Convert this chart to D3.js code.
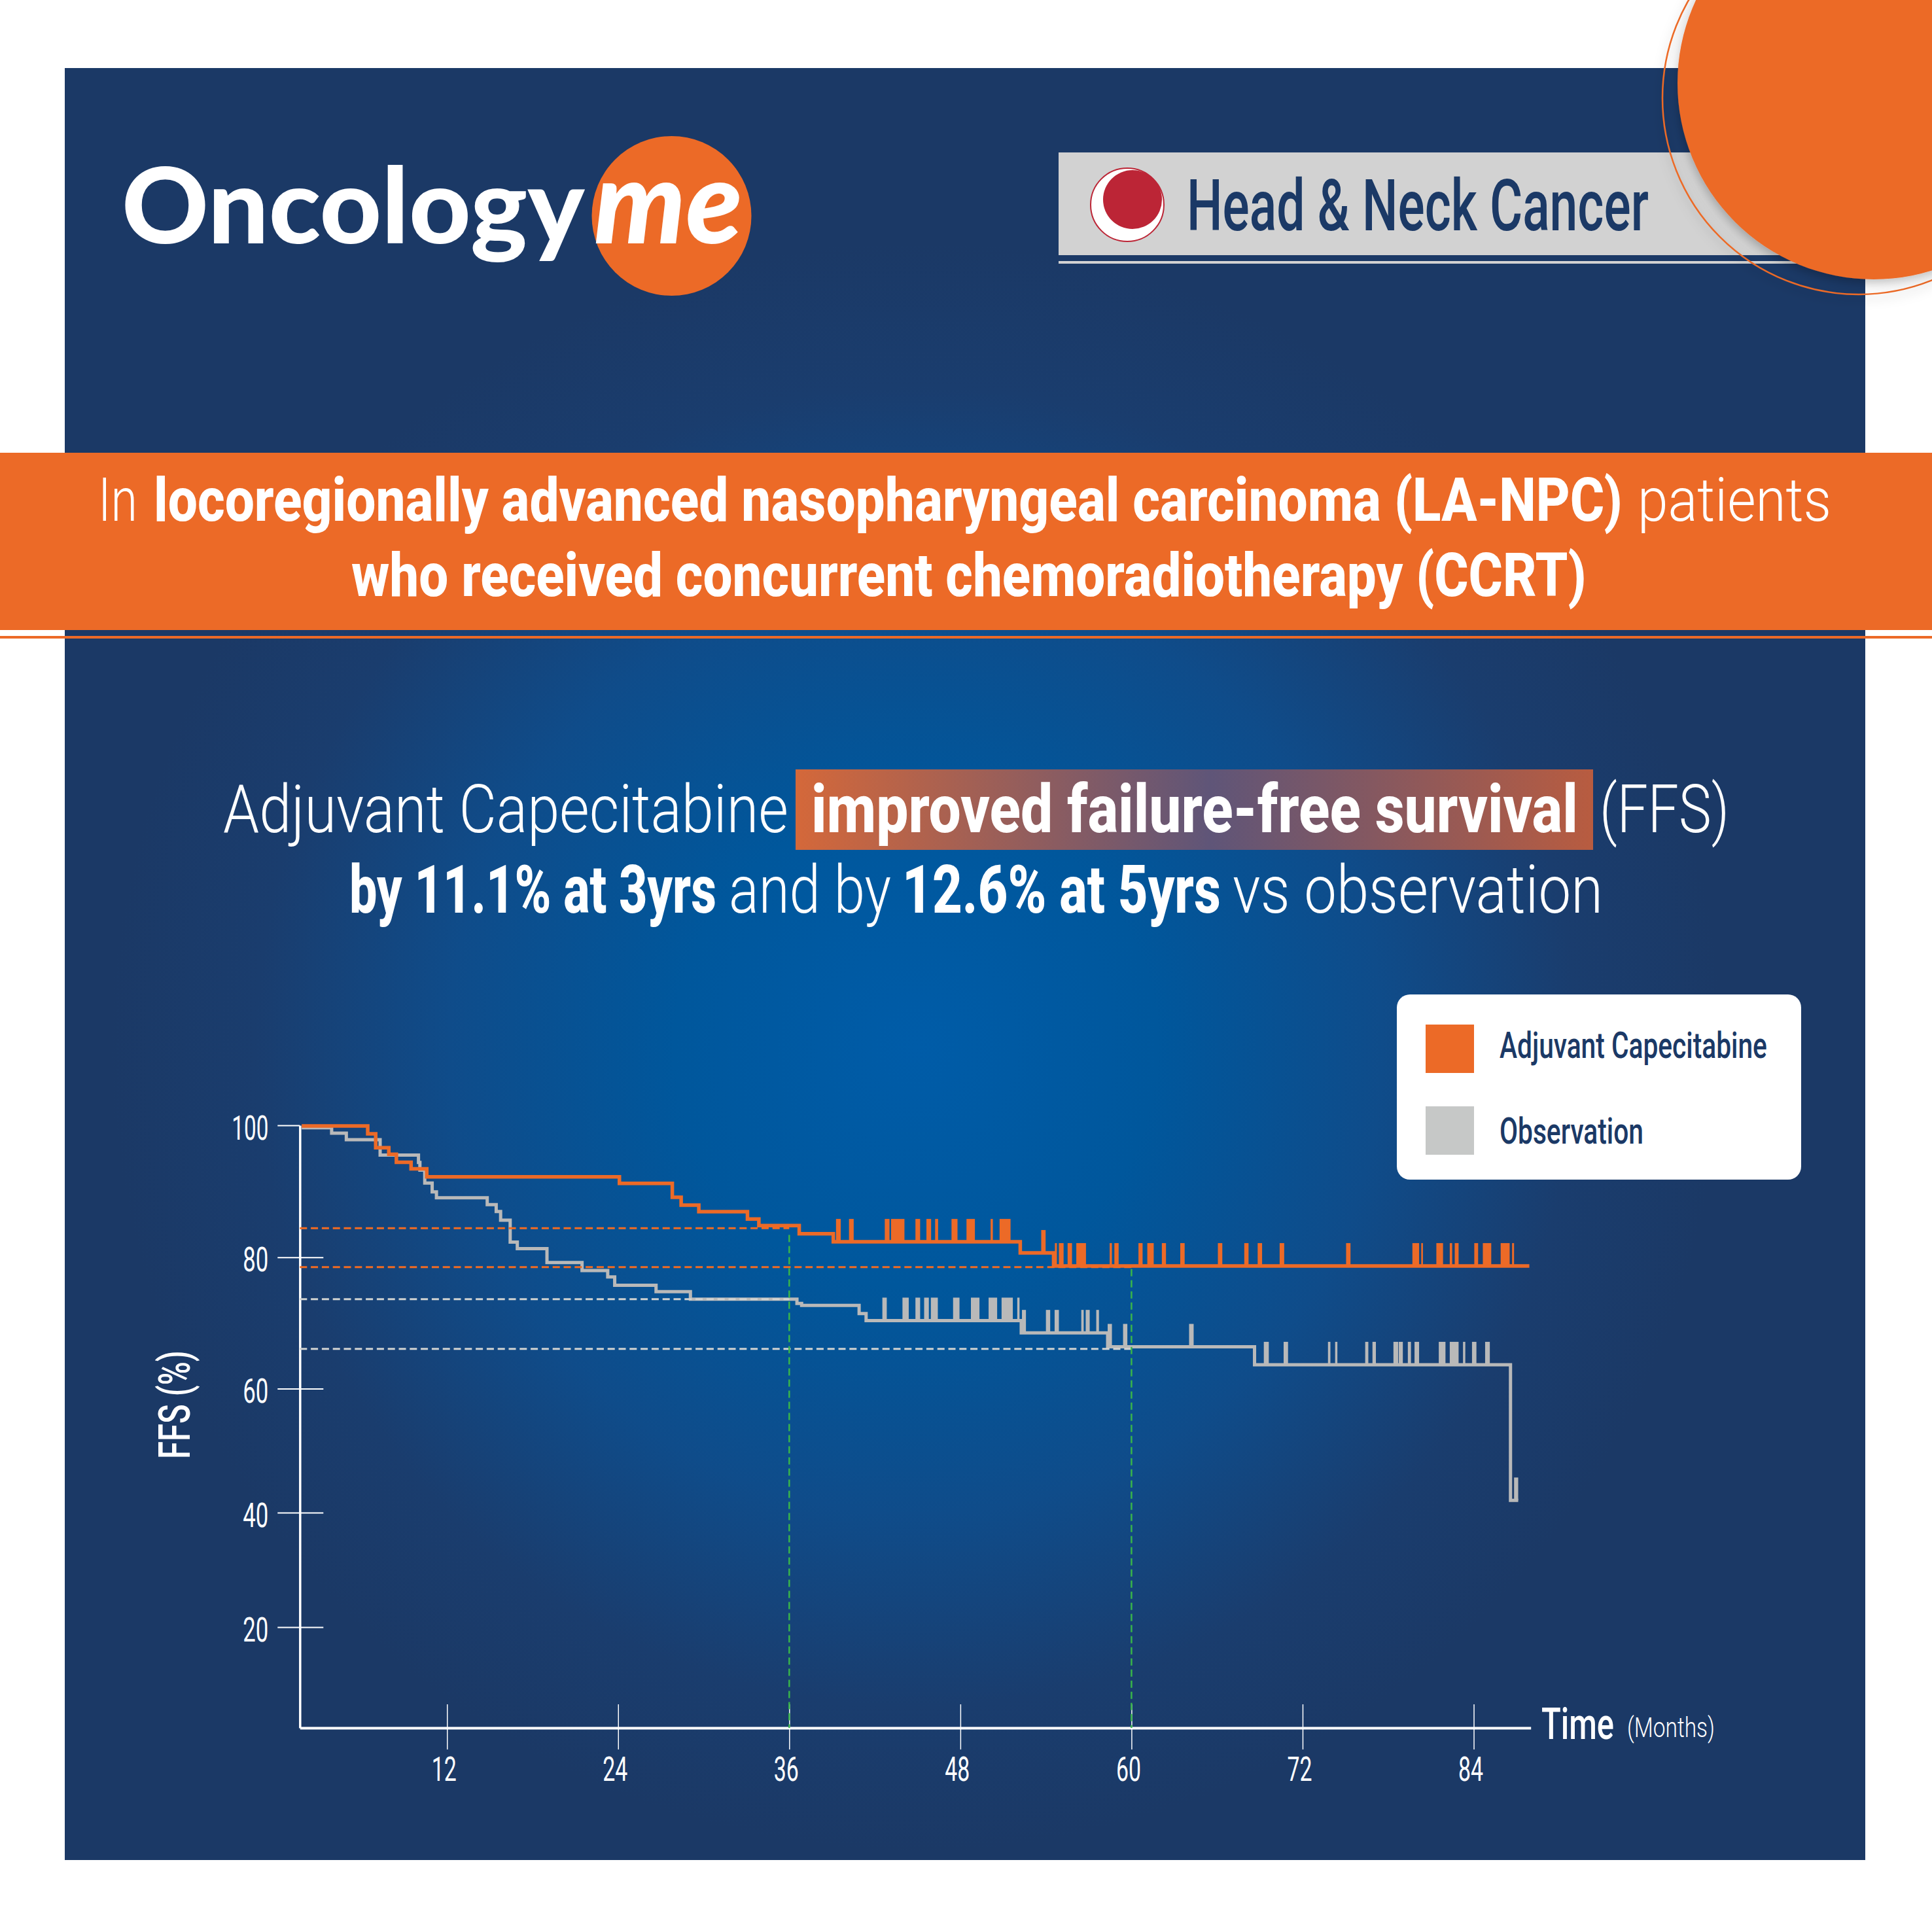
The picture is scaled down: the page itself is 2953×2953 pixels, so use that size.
<!DOCTYPE html>
<html>
<head>
<meta charset="utf-8">
<title>Oncology me - FFS</title>
<script src="https://cdn.jsdelivr.net/npm/d3@7"></script>
<style>
  body { margin: 0; background: #fff; }
  text { font-family: Roboto, "Liberation Sans", sans-serif; }
</style>
</head>
<body>
<svg id="chart" width="2953" height="2953"></svg>
<script>
// Data. Months and FFS (%)
var capMonths = [1.81, 6.44, 7.0, 7.92, 8.45, 9.48, 10.58, 24.09, 27.8, 28.42, 29.66, 33.07, 33.87, 36.7, 39.09, 52.2, 54.54, 87.9];
var capFFS = [99.9, 98.7, 96.6, 95.6, 94.4, 93.4, 92.2, 91.2, 89.1, 87.9, 86.9, 85.8, 84.8, 83.57, 82.34, 80.66, 78.67, 78.67];

var obsMonths = [1.81, 3.91, 4.94, 7.31, 10.0, 10.1, 10.44, 10.96, 11.26, 14.82, 15.45, 15.76, 16.43, 16.93, 19.01, 21.47, 23.27, 23.76, 26.66, 29.07, 36.54, 36.87, 40.9, 41.39, 52.27, 58.33, 68.63, 86.58, 87.12];
var obsFFS = [99.64, 98.81, 97.82, 95.5, 94.38, 93.22, 91.24, 89.92, 89.02, 87.97, 86.94, 85.62, 82.31, 81.32, 79.2, 77.97, 77.0, 75.73, 74.77, 73.63, 72.97, 72.67, 71.44, 70.37, 68.5, 66.37, 63.64, 41.97, 41.97];

// censor marks, [from, to] in months (close marks merge into blocks)
var capCensor = [[39.28,39.61],[40.19,40.52],[42.70,43.03],[43.14,44.08],[44.85,45.18],[45.62,45.95],[46.23,46.44],[47.38,47.80],[48.43,49.02],[50.12,50.28],[50.75,51.52],[53.67,53.98],[54.63,54.77],[54.91,55.24],[55.52,55.83],[56.13,56.81],[58.47,58.63],[58.80,59.10],[60.49,60.78],[61.11,61.56],[62.13,62.42],[63.42,63.73],[66.06,66.37],[67.91,68.21],[68.85,69.16],[70.39,70.71],[75.05,75.36],[79.70,80.17],[80.32,80.44],[81.38,81.85],[82.32,82.49],[82.67,82.94],[84.04,84.31],[84.64,85.23],[85.89,86.52],[86.69,86.83]];
var obsCensor = [[42.53,42.84],[43.94,44.38],[44.85,45.18],[45.46,45.79],[45.93,46.42],[47.49,47.94],[48.74,49.34],[49.98,50.58],[50.89,51.68],[51.99,52.15],[52.32,52.6],[54.0,54.3],[54.61,54.91],[56.48,56.65],[56.79,57.07],[57.53,57.72],[58.33,58.63],[59.41,59.71],[64.04,64.36],[69.28,69.63],[70.67,70.98],[73.78,73.95],[74.28,74.44],[76.39,76.61],[76.9,77.14],[78.37,78.7],[78.74,79.03],[79.38,79.6],[79.85,80.17],[81.55,82.02],[82.32,82.94],[83.25,83.41],[83.88,84.19],[84.8,85.13],[86.83,87.12]];

// landmark readings at 3 and 5 years
var capLandmarks = [{month: 36, ffs: 84.4}, {month: 60, ffs: 78.5}];
var obsLandmarks = [{month: 36, ffs: 73.63}, {month: 60, ffs: 66.04}];
var landmarkMonths = [36, 60];
var landmarkTops = [83.4, 78.2];

var xTicks = [12, 24, 36, 48, 60, 72, 84];
var yTicks = [100, 80, 60, 40, 20];
var legendLabels = ["Adjuvant Capecitabine", "Observation"];

var navy = "#1b3966", orange = "#ec6a27", grayLine = "#b9b9b9", grayDash = "#d0d2d1", green = "#39b54a";

var svg = d3.select("#chart");
var defs = svg.append("defs");

// radial panel background
var bgGrad = defs.append("radialGradient").attr("id", "panelBg")
    .attr("gradientUnits", "userSpaceOnUse")
    .attr("cx", 1400).attr("cy", 1600).attr("r", 1230);
bgGrad.append("stop").attr("offset", 0).attr("stop-color", "#005ca8");
bgGrad.append("stop").attr("offset", 0.3).attr("stop-color", "#00579c");
bgGrad.append("stop").attr("offset", 0.58).attr("stop-color", "#0f4c8a");
bgGrad.append("stop").attr("offset", 0.82).attr("stop-color", "#1a3d6e");
bgGrad.append("stop").attr("offset", 1).attr("stop-color", navy);

var hlGrad = defs.append("linearGradient").attr("id", "highlight");
hlGrad.append("stop").attr("offset", 0).attr("stop-color", "#d4683a");
hlGrad.append("stop").attr("offset", 0.52).attr("stop-color", "#5f5578");
hlGrad.append("stop").attr("offset", 1).attr("stop-color", "#b85c40");

var shadow = defs.append("filter").attr("id", "softShadow")
    .attr("x", "-20%").attr("y", "-20%").attr("width", "140%").attr("height", "140%");
shadow.append("feDropShadow").attr("dx", 0).attr("dy", 6).attr("stdDeviation", 8)
    .attr("flood-color", "#000").attr("flood-opacity", 0.25);

//Fits a text to its width in the picture, the fonts here are wider than the original one
function putText(parent, str, x, y, size, weight, len, color, rotate) {
    let t = parent.append("text")
        .text(str)
        .attr("font-size", size)
        .attr("font-weight", weight)
        .attr("fill", color || "#fff");
    let k = len / t.node().getComputedTextLength();
    t.attr("transform", "translate(" + x + "," + y + ")" + (rotate ? "rotate(" + rotate + ")" : "") + "scale(" + k + ",1)");
    return t;
}

//#region Panel, banner and header
svg.append("rect").attr("x", 99).attr("y", 104).attr("width", 2752).attr("height", 2739).attr("fill", "url(#panelBg)");

svg.append("rect").attr("x", 1618).attr("y", 233).attr("width", 1130).attr("height", 157).attr("fill", "#d2d2d2");
svg.append("rect").attr("x", 1618).attr("y", 399).attr("width", 1130).attr("height", 4).attr("fill", "#d2d2d2");
svg.append("circle").attr("cx", 1723).attr("cy", 313).attr("r", 56)
    .attr("fill", "#fff").attr("stroke", "#bc2536").attr("stroke-width", 2);
svg.append("circle").attr("cx", 1731).attr("cy", 305).attr("r", 45).attr("fill", "#bc2536");
putText(svg, "Head & Neck Cancer", 1814, 352, 110, 500, 706, navy);

svg.append("circle").attr("cx", 2841).attr("cy", 150).attr("r", 300)
    .attr("fill", "none").attr("stroke", orange).attr("stroke-width", 2.5).attr("filter", "url(#softShadow)");
svg.append("circle").attr("cx", 2864).attr("cy", 127).attr("r", 300)
    .attr("fill", orange).attr("filter", "url(#softShadow)");

putText(svg, "Oncology", 186, 372, 160, 900, 700).style("font-family", "Lato, Roboto, sans-serif");
svg.append("circle").attr("cx", 1026.5).attr("cy", 330).attr("r", 122).attr("fill", orange);
putText(svg, "me", 908, 372, 178, 900, 248).attr("font-style", "italic")
    .style("font-family", "Lato, Roboto, sans-serif");

svg.append("rect").attr("x", 0).attr("y", 692).attr("width", 2953).attr("height", 271).attr("fill", orange);
svg.append("rect").attr("x", 0).attr("y", 972).attr("width", 2953).attr("height", 4).attr("fill", orange);

putText(svg, "In", 150, 796, 92, 300, 60);
putText(svg, "locoregionally advanced nasopharyngeal carcinoma (LA-NPC)", 235, 796, 92, 800, 2245);
putText(svg, "patients", 2503, 796, 92, 300, 296);
putText(svg, "who received concurrent chemoradiotherapy (CCRT)", 537, 911, 92, 800, 1888);

svg.append("rect").attr("x", 1216).attr("y", 1176).attr("width", 1219).attr("height", 123).attr("fill", "url(#highlight)");
putText(svg, "Adjuvant Capecitabine", 341, 1272, 102, 300, 864);
putText(svg, "improved failure-free survival", 1240, 1272, 102, 800, 1172);
putText(svg, "(FFS)", 2445, 1272, 102, 300, 198);
putText(svg, "by 11.1% at 3yrs", 534, 1395, 102, 800, 561);
putText(svg, "and by", 1114, 1395, 102, 300, 248);
putText(svg, "12.6% at 5yrs", 1379, 1395, 102, 800, 487);
putText(svg, "vs observation", 1884, 1395, 102, 300, 566);
//#endregion

//#region Scales
// the y axis of the picture is not even, 40 and 20 sit closer together
var x = d3.scaleLinear().domain([1.68, 88]).range([458.3, 2339.7]);
var y = d3.scaleLinear().domain([100, 80, 60, 40, 20, 2.4]).range([1720, 1921.7, 2122.5, 2312, 2487, 2641]);

var stepLine = d3.line()
    .x(function(d) { return x(d[0]); })
    .y(function(d) { return y(d[1]); })
    .curve(d3.curveStepAfter);

//FFS of the step that a month falls on
function stepValue(months, values, month) {
    let i = d3.bisectRight(months, month) - 1;
    return values[Math.max(i, 0)];
}
//#endregion

//#region Axes
var yAxis = d3.axisLeft(y).tickValues(yTicks).tickSizeOuter(0).tickPadding(16);
var yG = svg.append("g").attr("transform", "translate(458.3,0)").call(yAxis);
yG.select(".domain").attr("stroke", "#fff").attr("stroke-width", 3.5);
yG.selectAll(".tick line")
    .attr("x1", -34)
    .attr("x2", function(d) { return d == 100 ? 0 : 36; })
    .attr("stroke", "#fff").attr("stroke-width", 2);
yG.selectAll(".tick text")
    .attr("x", -48).attr("dy", 21)
    .attr("font-size", 51).attr("fill", "#fff").attr("font-family", "Roboto")
    .attr("textLength", function(d) { return d == 100 ? 56 : 39; })
    .attr("lengthAdjust", "spacingAndGlyphs");

var xAxis = d3.axisBottom(x).tickValues(xTicks).tickSizeOuter(0);
var xG = svg.append("g").attr("transform", "translate(0,2641)").call(xAxis);
xG.select(".domain").attr("stroke", "#fff").attr("stroke-width", 4);
xG.selectAll(".tick line")
    .attr("y1", -36).attr("y2", 33)
    .attr("stroke", "#fff").attr("stroke-width", 1.5);
xG.selectAll(".tick text")
    .attr("x", -5).attr("y", 81).attr("dy", 0)
    .attr("font-size", 51).attr("fill", "#fff").attr("font-family", "Roboto")
    .attr("textLength", 38)
    .attr("lengthAdjust", "spacingAndGlyphs");

putText(svg, "Time", 2356, 2658, 66, 500, 111);
putText(svg, "(Months)", 2487, 2655, 42, 300, 134);
putText(svg, "FFS (%)", 290, 2230, 66, 500, 166, "#fff", -90);
//#endregion

//#region Survival curves and censor marks
function putCurve(months, values, censor, color, width) {
    let points = d3.zip(months, values);
    svg.append("path")
        .attr("d", stepLine(points))
        .attr("fill", "none")
        .attr("stroke", color)
        .attr("stroke-width", width);

    svg.append("g").selectAll("rect")
        .data(censor)
        .join("rect")
        .attr("x", function(d) { return x(d[0]); })
        .attr("width", function(d) { return x(d[1]) - x(d[0]); })
        .attr("y", function(d) { return y(stepValue(months, values, d[0])) - 35; })
        .attr("height", 35)
        .attr("fill", color);
}
putCurve(obsMonths, obsFFS, obsCensor, grayLine, 5);
putCurve(capMonths, capFFS, capCensor, orange, 5.5);
//#endregion

//#region Landmark dashes
function putLandmarks(data, color) {
    svg.append("g").selectAll("line")
        .data(data)
        .join("line")
        .attr("x1", x.range()[0])
        .attr("x2", function(d) { return x(d.month); })
        .attr("y1", function(d) { return y(d.ffs); })
        .attr("y2", function(d) { return y(d.ffs); })
        .attr("stroke", color)
        .attr("stroke-width", 3)
        .attr("stroke-dasharray", "11 5.8");
}
putLandmarks(capLandmarks, "#f26b21");
putLandmarks(obsLandmarks, grayDash);

svg.append("g").selectAll("line")
    .data(landmarkMonths)
    .join("line")
    .attr("x1", function(d) { return x(d); })
    .attr("x2", function(d) { return x(d); })
    .attr("y1", function(d, i) { return y(landmarkTops[i]); })
    .attr("y2", y.range()[5])
    .attr("stroke", green)
    .attr("stroke-width", 2.5)
    .attr("stroke-dasharray", "11 6");
//#endregion

//#region Legend
svg.append("rect").attr("x", 2135).attr("y", 1520).attr("width", 618).attr("height", 283).attr("rx", 20).attr("fill", "#fff");
var legendColors = d3.scaleOrdinal().domain(legendLabels).range([orange, "#c6c8c7"]);
var legendY = d3.scalePoint().domain(legendLabels).range([1566, 1691]);
var legendBase = d3.scalePoint().domain(legendLabels).range([1617, 1748]);
var legendLens = d3.scaleOrdinal().domain(legendLabels).range([409, 220]);
legendLabels.forEach(function(label) {
    svg.append("rect")
        .attr("x", 2179).attr("y", legendY(label))
        .attr("width", 74).attr("height", 74)
        .attr("fill", legendColors(label));
    putText(svg, label, 2292, legendBase(label), 55, 500, legendLens(label), navy);
});
//#endregion
</script>
</body>
</html>
